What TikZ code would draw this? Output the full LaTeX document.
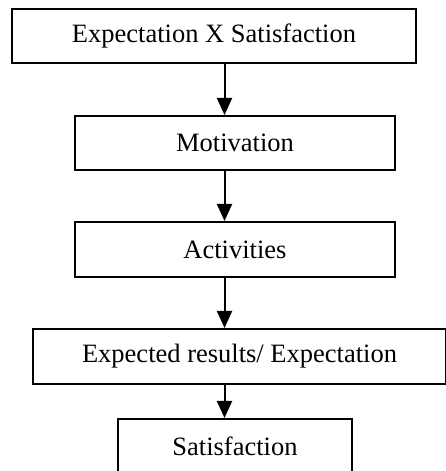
\documentclass[tikz,border=0pt]{standalone}
\usepackage{fontspec}
\setmainfont{Liberation Serif}
\usetikzlibrary{arrows.meta}
\begin{document}
\begin{tikzpicture}[x=1pt,y=1pt,
  box/.style={draw=black,line width=2pt,inner sep=0pt,font=\fontsize{26.5}{30}\selectfont},
  conn/.style={line width=2pt,-{Triangle[length=17pt,width=15pt]}}]
\useasboundingbox (0,0) rectangle (446,471);
\node[box,minimum width=404pt,minimum height=54pt] (a) at (214,435) {Expectation X Satisfaction};
\node[box,minimum width=320pt,minimum height=54pt] (b) at (235,328) {Motivation};
\node[box,minimum width=320pt,minimum height=55pt] (c) at (235,221.5) {Activities};
\node[box,minimum width=413pt,minimum height=55pt] (d) at (239.5,114.5) {Expected results/ Expectation};
\node[box,minimum width=234pt,minimum height=55pt] (e) at (235,24.5) {Satisfaction};
\coordinate (ax) at (224.5,0);
\draw[conn] (a.south -| ax) -- (b.north -| ax);
\draw[conn] (b.south -| ax) -- (c.north -| ax);
\draw[conn] (c.south -| ax) -- (d.north -| ax);
\draw[conn] (d.south -| ax) -- (e.north -| ax);
\end{tikzpicture}
\end{document}
